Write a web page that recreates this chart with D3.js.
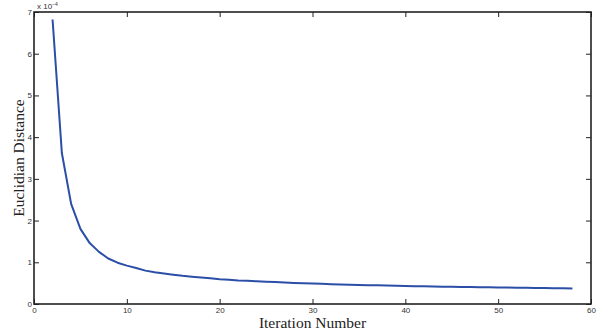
<!DOCTYPE html>
<html><head><meta charset="utf-8">
<script src="https://cdn.jsdelivr.net/npm/d3@7"></script>
<style>body{margin:0;background:#fff}svg{display:block}</style>
</head><body>
<svg id="c" width="616" height="333"></svg>
<script>
const iterations = d3.range(2, 59);
const distances = [6.82,3.62,2.40,1.80,1.46,1.25,1.09,0.99,0.92,0.865,0.80,0.76,0.73,0.70,0.675,0.655,0.635,0.615,0.595,0.58,0.565,0.555,0.545,0.535,0.525,0.515,0.505,0.497,0.49,0.483,0.476,0.47,0.464,0.458,0.452,0.447,0.442,0.437,0.432,0.428,0.424,0.42,0.416,0.412,0.408,0.405,0.402,0.399,0.396,0.393,0.39,0.387,0.384,0.381,0.378,0.375,0.372];
const xTicks = [0,10,20,30,40,50,60];
const yTicks = [0,1,2,3,4,5,6,7];
const xLabel = "Iteration Number";
const yLabel = "Euclidian Distance";

const L=34,R=591,T=12,B=304;
const svg=d3.select("#c");
const x=d3.scaleLinear().domain([0,60]).range([L,R]);
const y=d3.scaleLinear().domain([0,7]).range([B,T]);
const tickFont="Liberation Sans, Arial, sans-serif";
const axCol="#222";

function style(g){
  g.select(".domain").remove();
  g.selectAll(".tick line").attr("stroke",axCol).attr("stroke-width",1);
  g.selectAll(".tick text").attr("font-family",tickFont).attr("font-size",8).attr("fill","#333");
}
svg.append("g").attr("transform",`translate(0,${B})`)
  .call(d3.axisBottom(x).tickValues(xTicks).tickFormat(d3.format("d")).tickSizeInner(-5).tickPadding(3))
  .call(style);
svg.append("g").attr("transform",`translate(0,${T})`)
  .call(d3.axisTop(x).tickValues(xTicks).tickFormat("").tickSizeInner(-5)).call(style);
svg.append("g").attr("transform",`translate(${L},0)`)
  .call(d3.axisLeft(y).tickValues(yTicks).tickFormat(d3.format("d")).tickSizeInner(-5).tickPadding(2))
  .call(style);
svg.append("g").attr("transform",`translate(${R},0)`)
  .call(d3.axisRight(y).tickValues(yTicks).tickFormat("").tickSizeInner(-5)).call(style);

svg.append("rect").attr("x",L).attr("y",T).attr("width",R-L).attr("height",B-T)
  .attr("fill","none").attr("stroke",axCol).attr("stroke-width",1.6);

svg.append("path").datum(iterations.map((d,i)=>[d,distances[i]]))
  .attr("fill","none").attr("stroke","#2b4ea6").attr("stroke-width",2)
  .attr("stroke-linejoin","round")
  .attr("d",d3.line().x(d=>x(d[0])).y(d=>y(d[1])));

const ex=svg.append("text").attr("x",37).attr("y",9).attr("font-family",tickFont).attr("font-size",8).attr("fill","#333");
ex.append("tspan").text("x 10");
ex.append("tspan").attr("dy",-3).attr("font-size",5).text("−4");

svg.append("text").attr("x",(L+R)/2).attr("y",328).attr("text-anchor","middle")
  .attr("font-family","Liberation Serif, serif").attr("font-size",15.5).attr("fill","#222").text(xLabel);
svg.append("text").attr("transform",`translate(24,${(T+B)/2}) rotate(-90)`).attr("text-anchor","middle")
  .attr("font-family","Liberation Serif, serif").attr("font-size",15.5).attr("fill","#222").text(yLabel);
</script>
</body></html>
